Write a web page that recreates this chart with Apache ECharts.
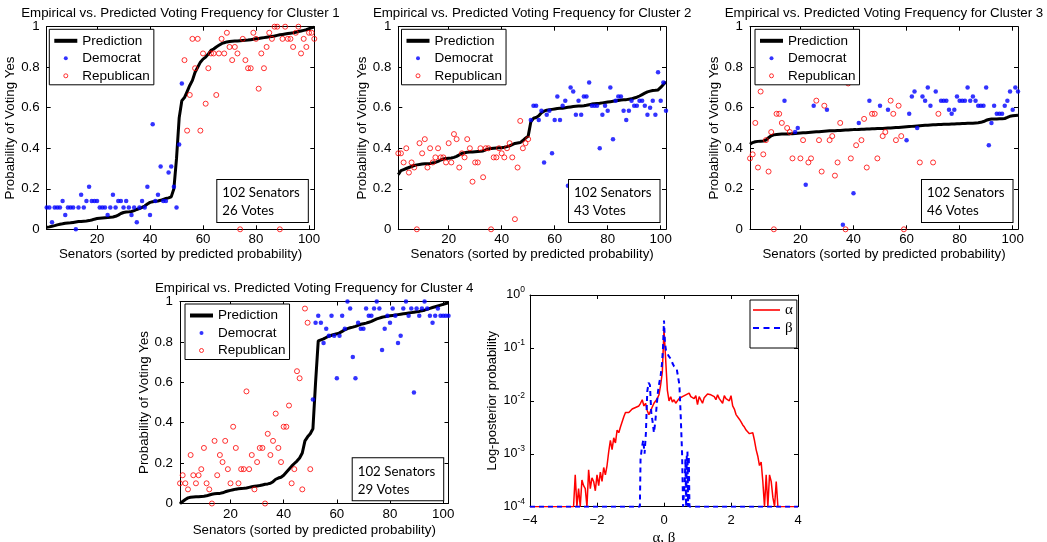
<!DOCTYPE html>
<html><head><meta charset="utf-8">
<script src="https://cdn.jsdelivr.net/npm/echarts@6/dist/echarts.min.js"></script>
<style>html,body{margin:0;padding:0;background:#fff}#c{width:1047px;height:542px}</style>
</head><body><div id="c"></div>
<script>
// ---------- data ----------
const xTicks = [20, 40, 60, 80, 100];
const yTicks = [0, 0.2, 0.4, 0.6, 0.8, 1];
const clusterTitles = ['Empirical vs. Predicted Voting Frequency for Cluster 1','Empirical vs. Predicted Voting Frequency for Cluster 2','Empirical vs. Predicted Voting Frequency for Cluster 3','Empirical vs. Predicted Voting Frequency for Cluster 4'];
const clusterVotes = [26, 43, 46, 29];
const senatorCount = 102;

const c1Pred = [0.01,0.012,0.015,0.018,0.022,0.025,0.027,0.03,0.031,0.032,
0.034,0.036,0.038,0.039,0.04,0.041,0.043,0.046,0.05,0.053,
0.055,0.056,0.057,0.058,0.06,0.061,0.064,0.07,0.078,0.083,
0.085,0.086,0.088,0.092,0.098,0.102,0.108,0.115,0.125,0.133,
0.136,0.138,0.14,0.143,0.148,0.152,0.155,0.16,0.2,0.35,
0.55,0.635,0.65,0.68,0.71,0.735,0.775,0.8,0.825,0.84,
0.85,0.865,0.883,0.89,0.9,0.908,0.916,0.921,0.925,0.927,
0.928,0.929,0.93,0.931,0.932,0.933,0.934,0.936,0.938,0.94,
0.942,0.944,0.946,0.948,0.95,0.952,0.954,0.957,0.96,0.962,
0.964,0.966,0.968,0.97,0.973,0.976,0.979,0.982,0.985,0.99,
0.995,0.998];
const c1Vals = [0.108,0.108,0.035,0.108,0.108,0.108,0.14,0.07,0.108,0.108,
0.108,0,0.108,0.17,0.108,0.14,0.21,0.14,0.14,0.14,
0.108,0.108,0.108,0.07,0.108,0.17,0.108,0.14,0.14,0.108,
0.14,0.108,0.07,0.108,0.035,0.108,0.14,0.108,0.21,0.07,
0.518,0.14,0.17,0.31,0.14,0.14,0.28,0.31,0.21,0.108,
0.418,0.72,0.835,0.487,0.663,0.94,0.795,0.94,0.487,0.868,
0.62,0.795,0.868,0.868,0.663,0.868,0.94,0.868,0.97,0.9,
0.835,0.9,0.868,0,0.94,0.835,0.795,0.795,0.97,0.94,
0.694,0.868,0.795,0.9,0.97,0.94,1,1,0,0.94,
1,0.94,0.94,0.9,0.97,1,0.868,0.94,0.9,0.97,
0.97,0.94];
const c1Party = 'DDDDDDDDDD DDDDDDDDDD DDDDDDDDDD DDDDDDDDDD DDDDDDDDDD DDRRRRRRRR RRRRRRRRRR RRRRRRRRRR RRRRRRRRRR RRRRRRRRRR RR';

const c2Pred = [0.27,0.29,0.295,0.3,0.305,0.31,0.315,0.318,0.32,0.322,
0.323,0.324,0.325,0.328,0.33,0.335,0.342,0.347,0.35,0.351,
0.352,0.355,0.36,0.367,0.375,0.378,0.38,0.381,0.382,0.383,
0.384,0.385,0.387,0.392,0.397,0.399,0.4,0.401,0.402,0.403,
0.405,0.408,0.412,0.418,0.424,0.426,0.428,0.438,0.45,0.46,
0.53,0.548,0.552,0.56,0.575,0.583,0.588,0.59,0.592,0.594,
0.596,0.597,0.598,0.6,0.602,0.604,0.606,0.607,0.608,0.609,
0.61,0.612,0.615,0.618,0.62,0.621,0.622,0.624,0.626,0.628,
0.63,0.632,0.634,0.636,0.638,0.639,0.64,0.642,0.644,0.648,
0.652,0.658,0.665,0.672,0.678,0.682,0.685,0.686,0.688,0.7,
0.715,0.728];
const c2Vals = [0.375,0.375,0.33,0.4,0.28,0.33,0.305,0,0.425,0.375,
0.445,0.305,0.4,0.33,0.355,0.4,0.355,0.355,0.33,0.425,
0.33,0.47,0.445,0.305,0.375,0.355,0.445,0.4,0.235,0.33,
0.33,0.4,0.257,0.4,0.4,0,0.355,0.355,0.4,0.375,
0.355,0.4,0.425,0.355,0.05,0.305,0.535,0.4,0.425,0.445,
0.54,0.61,0.61,0.54,0.585,0.33,0.565,0.585,0.375,0.54,
0.655,0.54,0.61,0.635,0.215,0.7,0.68,0.565,0.635,0.565,
0.655,0.655,0.725,0.61,0.61,0.61,0.4,0.565,0.61,0.585,
0.7,0.445,0.635,0.655,0.655,0.585,0.54,0.585,0.635,0.61,
0.61,0.635,0.635,0.61,0.565,0.6,0.635,0.565,0.775,0.635,
0.725,0.585];
const c2Party = 'RRRRRRRRRR RRRRRRRRRR RRRRRRRRRR RRRRRRRRRR RRRRRRRRRR DDDDDDDDDD DDDDDDDDDD DDDDDDDDDD DDDDDDDDDD DDDDDDDDDD DD';

const c3Pred = [0.42,0.428,0.432,0.434,0.435,0.436,0.44,0.452,0.462,0.466,
0.468,0.469,0.47,0.47,0.471,0.471,0.472,0.473,0.474,0.475,
0.476,0.477,0.478,0.479,0.48,0.481,0.482,0.483,0.484,0.485,
0.486,0.486,0.487,0.488,0.488,0.489,0.49,0.49,0.491,0.492,
0.492,0.493,0.494,0.494,0.495,0.495,0.496,0.496,0.497,0.498,
0.498,0.499,0.5,0.5,0.501,0.502,0.503,0.504,0.505,0.506,
0.507,0.508,0.509,0.51,0.511,0.512,0.513,0.514,0.515,0.516,
0.516,0.517,0.517,0.518,0.518,0.519,0.52,0.52,0.521,0.521,
0.522,0.522,0.523,0.523,0.524,0.525,0.526,0.528,0.532,0.538,
0.542,0.544,0.545,0.545,0.546,0.546,0.547,0.552,0.558,0.56,
0.562,0.563];
const c3Vals = [0.35,0.37,0.525,0.305,0.68,0.37,0.44,0.285,0.48,0,
0.57,0.57,0.525,0.635,0.5,0.48,0.35,0.48,0.5,0.35,
0.44,0.22,0.33,0.35,0.61,0.635,0.44,0.285,0.61,0.59,
0.44,0.46,0.265,0.33,0.525,0.022,0,0.72,0.35,0.178,
0.415,0.525,0.44,0.545,0.305,0.635,0.57,0.57,0.35,0.61,
0.46,0.48,0.59,0.635,0.57,0.44,0.61,0.46,0,0.44,
0.57,0.655,0.68,0.5,0.33,0.655,0.635,0.7,0.61,0.33,
0.68,0.57,0.635,0.635,0.635,0.59,0.57,0.59,0.655,0.635,
0.635,0.635,0.7,0.635,0.655,0.635,0.61,0.61,0.61,0.7,
0.415,0.525,0.61,0.57,0.57,0.57,0.61,0.635,0.68,0.59,
0.7,0.68];
const c3Party = 'RRRRRRRRRR RRRDRRRDDR RDRRDRRRRD RRRRRDRRRD RDRRRDRRRD RRDRRRRRRD DDDDRDDDDR DRDDDDDDDD DDDDDDDDDD DDDDDDDDDD DD';

const c4Pred = [0,0.01,0.02,0.028,0.031,0.032,0.033,0.034,0.035,0.036,
0.038,0.042,0.046,0.048,0.049,0.05,0.053,0.058,0.062,0.065,
0.068,0.071,0.073,0.074,0.075,0.077,0.08,0.083,0.085,0.087,
0.089,0.092,0.095,0.097,0.1,0.108,0.12,0.126,0.13,0.14,
0.155,0.17,0.185,0.198,0.21,0.225,0.25,0.31,0.33,0.345,
0.37,0.6,0.805,0.81,0.815,0.822,0.828,0.833,0.837,0.84,
0.845,0.852,0.86,0.866,0.87,0.873,0.877,0.882,0.887,0.89,
0.893,0.897,0.902,0.908,0.914,0.918,0.922,0.925,0.927,0.929,
0.931,0.933,0.935,0.937,0.939,0.941,0.943,0.945,0.947,0.949,
0.951,0.954,0.957,0.961,0.966,0.97,0.974,0.978,0.982,0.986,
0.99,0.994];
const c4Vals = [0.10,0.14,0.10,0.07,0.24,0.14,0.10,0.14,0.17,0.275,
0.10,0.07,0,0.31,0.14,0.24,0.205,0.31,0.17,0.10,
0.38,0.275,0.10,0.17,0.17,0.555,0.17,0.24,0.07,0.205,
0.275,0.275,0,0.345,0.24,0.31,0.445,0.275,0.205,0.38,
0.38,0.485,0.10,0.17,0.655,0.62,0.07,0.965,0.895,0.17,
0.515,0.895,0.93,0.895,0.795,0.865,0.83,0.93,0.83,0.62,
0.83,0.93,0.865,1,0.965,0.725,0.62,0.895,0.865,0.865,
0.965,0.93,0.93,0.965,1,0.965,0.76,0.865,0.93,0.895,
0.965,0.93,0.795,0.83,0.965,1,0.93,0.965,0.55,0.965,
0.93,0.965,1,0.965,0.93,0.895,0.93,0.965,0.93,0.93,
0.93,0.93];
const c4Party = 'RRRRRRRRRR RRRRRRRRRR RRRRRRRRRR RRRRRRRRRR RRRRRRRRRR DDDDDDDDDD DDDDDDDDDD DDDDDDDDDD DDDDDDDDDD DDDDDDDDDD DD';

// log-posterior curves: [alpha or beta value, probability]
const alphaCurve = [[-4,1e-4],[-2.8,1e-4],[-2.75,1e-4],[-2.7,1e-4],[-2.65,4e-4],[-2.6,1e-4],[-2.55,2.2e-4],[-2.5,1e-4],
[-2.45,3.2e-4],[-2.4,2.5e-4],[-2.35,2.2e-4],[-2.3,1e-4],[-2.25,5e-4],[-2.2,2.2e-4],[-2.15,3.5e-4],[-2.1,3e-4],
[-2.05,2e-4],[-2,4e-4],[-1.95,2.5e-4],[-1.9,4.5e-4],[-1.85,3e-4],[-1.8,5.5e-4],[-1.75,4e-4],[-1.7,6e-4],
[-1.65,1.1e-3],[-1.6,1.8e-3],[-1.55,1.2e-3],[-1.5,2e-3],[-1.45,1.6e-3],[-1.4,2.8e-3],[-1.35,2.5e-3],[-1.3,3.2e-3],
[-1.25,3e-3],[-1.2,5e-3],[-1.15,6e-3],[-1.1,6.2e-3],[-1.05,6e-3],[-1,6.5e-3],[-0.95,7e-3],[-0.9,6.5e-3],
[-0.85,7.5e-3],[-0.8,7e-3],[-0.75,8e-3],[-0.7,9e-3],[-0.65,1.05e-2],[-0.6,8e-3],[-0.55,9e-3],[-0.5,6.5e-3],
[-0.45,5.5e-3],[-0.4,6.5e-3],[-0.35,7e-3],[-0.3,9e-3],[-0.25,8.5e-3],[-0.2,1.1e-2],[-0.15,1.3e-2],[-0.1,2e-2],
[-0.05,3.5e-2],[0,2.2e-1],[0.05,6e-2],[0.1,1.6e-2],[0.15,1e-2],[0.2,1.2e-2],[0.25,9.5e-3],[0.3,1.05e-2],
[0.35,9e-3],[0.4,1e-2],[0.45,1.1e-2],[0.5,1.05e-2],[0.55,1.2e-2],[0.6,1.15e-2],[0.65,1.3e-2],[0.7,1.25e-2],
[0.75,1.4e-2],[0.8,1.2e-2],[0.85,1.3e-2],[0.9,1.1e-2],[0.95,1.25e-2],[1,8.5e-3],[1.05,1.2e-2],[1.1,1.1e-2],
[1.15,9e-3],[1.2,1.15e-2],[1.25,1.2e-2],[1.3,1.35e-2],[1.35,1.45e-2],[1.4,1.3e-2],[1.45,1.4e-2],[1.5,1.2e-2],
[1.55,1.05e-2],[1.6,1.3e-2],[1.65,1.1e-2],[1.7,1.2e-2],[1.75,9e-3],[1.8,1.25e-2],[1.85,1.1e-2],[1.9,1.2e-2],
[1.95,1e-2],[2,1.25e-2],[2.05,8e-3],[2.1,7e-3],[2.15,5.5e-3],[2.2,6e-3],[2.25,4.5e-3],[2.3,4e-3],
[2.35,3.5e-3],[2.4,3.2e-3],[2.45,2.8e-3],[2.5,3e-3],[2.55,2.4e-3],[2.6,2.2e-3],[2.65,2.5e-3],[2.7,1.8e-3],
[2.75,1.2e-3],[2.8,9e-4],[2.85,6e-4],[2.9,7e-4],[2.95,3e-4],[3,1e-4],[3.05,4e-4],[3.1,1e-4],
[3.15,4e-4],[3.2,3e-4],[3.25,1.5e-4],[3.3,1e-4],[3.35,3e-4],[3.4,1e-4],[3.45,1e-4],[4,1e-4]];
const betaCurve = [[-4,1e-4],[-0.72,1e-4],[-0.7,8e-4],[-0.66,1.3e-3],[-0.62,1.8e-3],[-0.58,1e-3],[-0.54,2.5e-3],
[-0.5,1.5e-2],[-0.46,2.2e-2],[-0.42,2e-2],[-0.38,6e-3],[-0.34,4e-3],[-0.3,2.5e-3],[-0.26,4e-3],[-0.22,8e-3],
[-0.18,1.5e-2],[-0.14,2.2e-2],[-0.1,3e-2],[-0.06,5e-2],[-0.03,1e-1],[0,3.3e-1],[0.03,1.2e-1],[0.06,9e-2],
[0.1,8.5e-2],[0.14,7e-2],[0.18,6.5e-2],[0.22,6e-2],[0.26,5e-2],[0.3,4.5e-2],[0.34,4.2e-2],[0.38,4e-2],
[0.42,3.8e-2],[0.46,2e-2],[0.5,5e-3],[0.54,1e-3],[0.57,1e-4],[0.6,1e-4],[0.62,3e-4],[0.64,8e-4],[0.66,1e-4],
[0.68,9e-4],[0.7,1.1e-3],[0.72,1e-4],[0.74,9e-4],[0.76,1e-4],[4,1e-4]];
const logXTicks = [-4, -2, 0, 2, 4];

// ---------- layout / style ----------
const SANS = 'Liberation Sans', SERIF = 'Liberation Serif', BOXFONT = 'Lato';
const grids = [
  {left: 46.7, top: 26.7, width: 267.6, height: 202.6},
  {left: 398.3, top: 26.7, width: 267.7, height: 202.6},
  {left: 750, top: 26.7, width: 268, height: 202.6},
  {left: 180, top: 301.5, width: 268.5, height: 202},
  {left: 530, top: 295, width: 268, height: 211.7}
];
const legendPos = [[49.3, 29.3], [401.5, 29.3], [755, 29.3], [185, 304]];
const boxPos = [[217.3, 180], [569, 180], [922, 180], [352.7, 458.3]];

const clusters = [
  {pred: c1Pred, vals: c1Vals, party: c1Party},
  {pred: c2Pred, vals: c2Vals, party: c2Party},
  {pred: c3Pred, vals: c3Vals, party: c3Party},
  {pred: c4Pred, vals: c4Vals, party: c4Party}
];

const black = '#000';
function axLine() { return {show: true, onZero: false, lineStyle: {color: black, width: 1}}; }
function tick(custom) { const t = {show: true, inside: true, length: 4, lineStyle: {color: black, width: 1}}; if (custom) t.customValues = custom; return t; }

const xAxis = [], yAxis = [], series = [], legend = [], graphic = [];

clusters.forEach((c, k) => {
  const party = c.party.replace(/ /g, '');
  const predData = [], demData = [], repData = [];
  for (let i = 0; i < c.vals.length; i++) {
    predData.push([i + 1, c.pred[i]]);
    (party[i] === 'D' ? demData : repData).push([i + 1, c.vals[i]]);
  }
  xAxis.push({type: 'value', gridIndex: k, min: 1, max: senatorCount, position: 'bottom',
    axisLine: axLine(), axisTick: tick(xTicks), splitLine: {show: false},
    axisLabel: {customValues: xTicks, color: black, fontSize: 13.3, fontFamily: SANS, margin: 4},
    name: 'Senators (sorted by predicted probability)', nameLocation: 'middle', nameGap: k === 3 ? 20 : 19,
    nameTextStyle: {color: black, fontSize: 13.3, fontFamily: SANS}});
  xAxis.push({type: 'value', gridIndex: k, min: 1, max: senatorCount, position: 'top',
    axisLine: axLine(), axisTick: tick(xTicks), splitLine: {show: false}, axisLabel: {show: false}});
  yAxis.push({type: 'value', gridIndex: k, min: 0, max: 1, interval: 0.2, position: 'left',
    axisLine: axLine(), axisTick: tick(), splitLine: {show: false},
    axisLabel: {color: black, fontSize: 13.3, fontFamily: SANS, margin: 7},
    name: 'Probability of Voting Yes', nameLocation: 'middle', nameGap: 23,
    nameTextStyle: {color: black, fontSize: 13.3, fontFamily: SANS}});
  yAxis.push({type: 'value', gridIndex: k, min: 0, max: 1, interval: 0.2, position: 'right',
    axisLine: axLine(), axisTick: tick(), splitLine: {show: false}, axisLabel: {show: false}});

  series.push({name: 'Prediction', type: 'line', xAxisIndex: 2 * k, yAxisIndex: 2 * k, data: predData,
    symbol: 'none', showSymbol: false, lineStyle: {color: black, width: 3}, itemStyle: {color: black}, z: 2});
  series.push({name: 'Democrat', type: 'scatter', xAxisIndex: 2 * k, yAxisIndex: 2 * k, data: demData,
    symbol: 'circle', symbolSize: 4.5, itemStyle: {color: '#0000ff'}, z: 3});
  series.push({name: 'Republican', type: 'scatter', xAxisIndex: 2 * k, yAxisIndex: 2 * k, data: repData,
    symbol: 'circle', symbolSize: 5, itemStyle: {color: 'rgba(0,0,0,0)', borderColor: '#ff0000', borderWidth: 1}, z: 3});

  legend.push({orient: 'vertical', left: legendPos[k][0], top: legendPos[k][1], itemWidth: 23, itemHeight: 4, itemGap: 3.5,
    padding: [4.5, 4, 2, 5], borderColor: black, borderWidth: 1, backgroundColor: '#fff', selectedMode: false,
    textStyle: {color: black, fontSize: 13.5, fontFamily: SANS},
    data: [
      {name: 'Prediction', icon: 'rect', itemStyle: {color: black, borderWidth: 0}},
      {name: 'Democrat', icon: 'circle', itemStyle: {color: '#0000ff', borderWidth: 0}},
      {name: 'Republican', icon: 'circle', itemStyle: {color: 'rgba(0,0,0,0)', borderColor: '#ff0000', borderWidth: 1}}
    ]});

  const g = grids[k];
  graphic.push({type: 'text', x: g.left + g.width / 2, y: g.top - 13, z: 10,
    style: {text: clusterTitles[k], font: '13.3px "' + SANS + '"', fill: black, align: 'center', verticalAlign: 'middle', textAlign: 'center', textVerticalAlign: 'middle'}});
  graphic.push({type: 'text', x: boxPos[k][0], y: boxPos[k][1], z: 10,
    style: {text: senatorCount + ' Senators\n' + clusterVotes[k] + ' Votes', font: '13.3px "' + BOXFONT + '"', fill: black,
      lineHeight: 18, padding: [4, 8, 2, 5], backgroundColor: '#fff', borderColor: black, borderWidth: 1,
      align: 'left', verticalAlign: 'top', textAlign: 'left', textVerticalAlign: 'top'}});
});

// ---------- log-posterior panel ----------
const minus = v => String(v).replace('-', '\u2212');
xAxis.push({type: 'value', gridIndex: 4, min: -4, max: 4, interval: 2, position: 'bottom',
  axisLine: axLine(), axisTick: tick(), splitLine: {show: false},
  axisLabel: {color: black, fontSize: 13, fontFamily: SANS, margin: 7, formatter: minus},
  name: 'α, β', nameLocation: 'middle', nameGap: 24, nameTextStyle: {color: black, fontSize: 15, fontFamily: SERIF}});
xAxis.push({type: 'value', gridIndex: 4, min: -4, max: 4, interval: 2, position: 'top',
  axisLine: axLine(), axisTick: tick(), splitLine: {show: false}, axisLabel: {show: false}});
yAxis.push({type: 'log', logBase: 10, gridIndex: 4, min: 1e-4, max: 1, position: 'left',
  axisLine: axLine(), axisTick: tick(), splitLine: {show: false},
  axisLabel: {color: black, margin: 5,
    formatter: v => '{b|10}{s|' + Math.round(Math.log10(v)) + '}',
    rich: {b: {fontSize: 12.5, fontFamily: SANS, color: black}, s: {fontSize: 8.5, fontFamily: SANS, color: black, padding: [0, 0, 10, 0]}}},
  name: 'Log-posterior probability', nameLocation: 'middle', nameGap: 31,
  nameTextStyle: {color: black, fontSize: 13, fontFamily: SANS}});
yAxis.push({type: 'log', logBase: 10, gridIndex: 4, min: 1e-4, max: 1, position: 'right',
  axisLine: axLine(), axisTick: tick(), splitLine: {show: false}, axisLabel: {show: false}});

series.push({name: 'α', type: 'line', xAxisIndex: 8, yAxisIndex: 8, data: alphaCurve, symbol: 'none', showSymbol: false,
  lineStyle: {color: '#ff0000', width: 1.5}, itemStyle: {color: '#ff0000'}, z: 2});
series.push({name: 'β', type: 'line', xAxisIndex: 8, yAxisIndex: 8, data: betaCurve, symbol: 'none', showSymbol: false,
  lineStyle: {color: '#0000ff', width: 2, type: [5, 4]}, itemStyle: {color: '#0000ff'}, z: 3});
legend.push({orient: 'vertical', left: 750, top: 300, itemWidth: 27, itemHeight: 2, itemGap: 3,
  padding: [2.5, 4, 12.5, 3], borderColor: black, borderWidth: 1, backgroundColor: '#fff', selectedMode: false,
  textStyle: {color: black, fontSize: 15, fontFamily: SERIF},
  data: [
    {name: 'α', icon: 'path://M0,0H27V1.6H0Z', itemStyle: {color: '#ff0000', borderWidth: 0}},
    {name: 'β', icon: 'path://M0,0H6V2H0ZM10.5,0H16.5V2H10.5ZM21,0H27V2H21Z', itemStyle: {color: '#0000ff', borderWidth: 0}}
  ]});

const chart = echarts.init(document.getElementById('c'), null, {renderer: 'canvas'});
chart.setOption({
  animation: false,
  backgroundColor: '#fff',
  grid: grids.map(g => Object.assign({containLabel: false, outerBoundsMode: 'none'}, g)),
  xAxis, yAxis, series, legend, graphic
});
</script></body></html>
